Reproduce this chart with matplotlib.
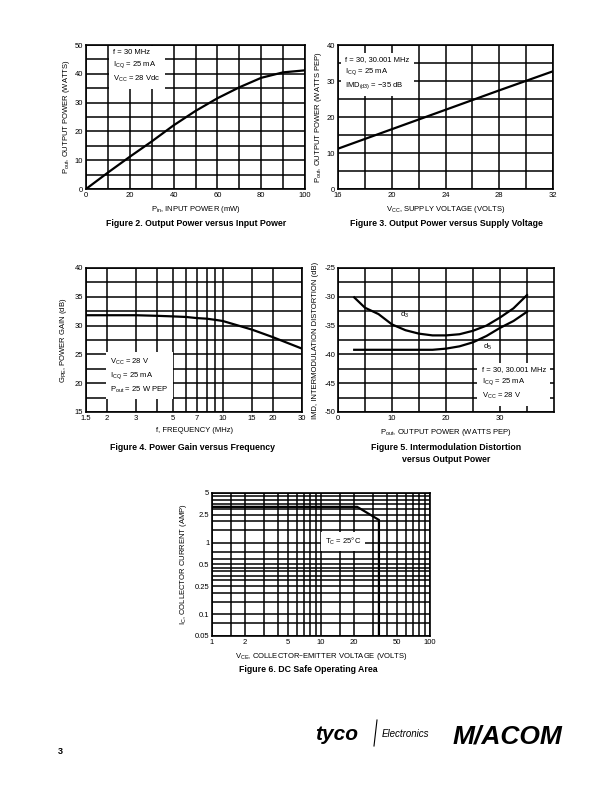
import matplotlib
matplotlib.use('Agg')
import matplotlib.pyplot as plt
from matplotlib.lines import Line2D

plt.rcParams['font.family'] = ['Liberation Sans Narrow', 'Liberation Sans', 'DejaVu Sans']
plt.rcParams['mathtext.default'] = 'regular'

# Figure 2 - output power vs input power
pin = [0, 10, 20, 30, 40, 50, 60, 70, 80, 90, 100]
pout_pin = [0, 5.7, 11.2, 16.5, 22.1, 27.1, 31.5, 35.3, 38.6, 40.5, 41.2]

# Figure 3 - output power vs supply voltage
vcc = [16, 20, 24, 28, 32]
pout_vcc = [11.2, 16.6, 22.0, 27.4, 32.7]

# Figure 4 - power gain vs frequency
freq = [1.5, 2, 3, 4, 5, 6, 7, 8, 9, 10, 15, 20, 30]
gain = [31.8, 31.8, 31.8, 31.7, 31.6, 31.5, 31.3, 31.2, 31.0, 30.8, 29.3, 28.0, 26.0]
freq_labels = [1.5, 2, 3, 5, 7, 10, 15, 20, 30]
freq_grid = [4, 6, 8, 9]

# Figure 5 - IMD vs output power
pout_imd = [3, 5, 7.5, 10, 12.5, 15, 17.5, 20, 22.5, 25, 27.5, 30, 32.5, 35]
d3 = [-30.1, -31.9, -33.0, -34.8, -35.8, -36.4, -36.7, -36.7, -36.5, -35.9, -35.0, -33.6, -32.0, -29.7]
d5 = [-39.2, -39.2, -39.2, -39.2, -39.2, -39.2, -39.2, -39.0, -38.6, -37.9, -36.8, -35.4, -34.2, -32.6]

# Figure 6 - DC safe operating area
soa_v = [1, 21.5, 34, 34]
soa_i = [3.2, 3.2, 2.1, 0.05]
vce_labels = [1, 2, 5, 10, 20, 50, 100]
vce_grid = [1.5, 3, 4, 6, 7, 8, 9, 15, 30, 40, 60, 70, 80, 90]
ic_labels = [0.05, 0.1, 0.25, 0.5, 1, 2.5, 5]
ic_grid = [0.075, 0.15, 0.2, 0.3, 0.35, 0.4, 0.45, 0.6, 0.75, 1.5, 2, 3, 3.5, 4, 4.5]

fig = plt.figure(figsize=(6.12, 7.92), dpi=100)


def px_axes(l, t, r, b):
    return fig.add_axes([l / 612, 1 - b / 792, (r - l) / 612, (b - t) / 792])


def style(ax):
    ax.set_axisbelow(True)
    for s in ax.spines.values():
        s.set_linewidth(1.2)
    ax.tick_params(which='both', length=0, pad=2, labelsize=5.5)
    ax.grid(which='both', color='black', linewidth=1.1)


box = dict(boxstyle='square,pad=0.6', fc='white', ec='none')
tfs = 5.5
lfs = 5.5

# ---- Figure 2
ax = px_axes(86, 45, 305, 189)
ax.plot(pin, pout_pin, color='black', lw=1.6)
ax.set_xlim(0, 100)
ax.set_ylim(0, 50)
ax.set_xticks(range(0, 101, 20))
ax.set_xticks(range(10, 100, 20), minor=True)
ax.set_yticks(range(0, 51, 10))
ax.set_yticks(range(5, 50, 10), minor=True)
style(ax)
ax.text(12.5, 42.5, 'f = 30 MHz\n$I_{CQ}$ = 25 mA\n$V_{CC}$ = 28 Vdc', fontsize=tfs,
        va='center', ha='left', bbox=box, linespacing=1.5)
ax.set_xlabel('$P_{in}$, INPUT POWER (mW)', fontsize=lfs, labelpad=4)
ax.set_ylabel('$P_{out}$, OUTPUT POWER (WATTS)', fontsize=lfs, labelpad=2)

# ---- Figure 3
ax = px_axes(338, 45, 553, 189)
ax.plot(vcc, pout_vcc, color='black', lw=1.6)
ax.set_xlim(16, 32)
ax.set_ylim(0, 40)
ax.set_xticks(range(16, 33, 4))
ax.set_xticks(range(18, 32, 4), minor=True)
ax.set_yticks(range(0, 41, 10))
ax.set_yticks(range(5, 40, 10), minor=True)
style(ax)
ax.text(16.55, 32.1, 'f = 30, 30.001 MHz\n$I_{CQ}$ = 25 mA\n$IMD_{(d3)}$ = \u221235 dB', fontsize=tfs,
        va='center', ha='left', bbox=box, linespacing=1.5)
ax.set_xlabel('$V_{CC}$, SUPPLY VOLTAGE (VOLTS)', fontsize=lfs, labelpad=4)
ax.set_ylabel('$P_{out}$, OUTPUT POWER (WATTS PEP)', fontsize=lfs, labelpad=2)

# ---- Figure 4
ax = px_axes(86, 268, 302, 412)
ax.plot(freq, gain, color='black', lw=1.6)
ax.set_xscale('log')
ax.set_xlim(1.5, 30)
ax.set_ylim(15, 40)
ax.set_xticks(freq_labels)
ax.set_xticklabels([str(v) for v in freq_labels])
ax.set_xticks(freq_grid, minor=True)
ax.set_xticklabels([], minor=True)
ax.set_yticks(range(15, 41, 5))
ax.set_yticks([17.5, 22.5, 27.5, 32.5, 37.5], minor=True)
style(ax)
ax.text(2.1, 21.3, '$V_{CC}$ = 28 V\n$I_{CQ}$ = 25 mA\n$P_{out}$ = 25 W PEP', fontsize=tfs,
        va='center', ha='left', bbox=box, linespacing=1.5)
ax.set_xlabel('f, FREQUENCY (MHz)', fontsize=lfs, labelpad=4)
ax.set_ylabel('$G_{PE}$, POWER GAIN (dB)', fontsize=lfs, labelpad=4)

# ---- Figure 5
ax = px_axes(338, 268, 554, 412)
ax.plot(pout_imd, d3, color='black', lw=1.6)
ax.plot(pout_imd, d5, color='black', lw=1.6)
ax.set_xlim(0, 40)
ax.set_ylim(-50, -25)
ax.set_xticks([0, 10, 20, 30])
ax.set_xticks([5, 15, 25, 35], minor=True)
ax.set_yticks(range(-50, -24, 5))
ax.set_yticklabels(['-50', '-45', '-40', '-35', '-30', '-25'])
ax.set_yticks([-47.5, -42.5, -37.5, -32.5, -27.5], minor=True)
style(ax)
ax.text(11.4, -33.1, '$d_3$', fontsize=tfs, ha='left', va='center')
ax.text(26.8, -38.7, '$d_5$', fontsize=tfs, ha='left', va='center')
ax.text(26.6, -45.1, 'f = 30, 30.001 MHz\n$I_{CQ}$ = 25 mA\n$V_{CC}$ = 28 V', fontsize=tfs,
        va='center', ha='left', bbox=box, linespacing=1.5)
ax.set_xlabel('$P_{out}$, OUTPUT POWER (WATTS PEP)', fontsize=lfs, labelpad=4)
ax.set_ylabel('IMD, INTERMODULATION DISTORTION (dB)', fontsize=lfs, labelpad=4)

# ---- Figure 6
ax = px_axes(212, 493, 430, 636)
ax.plot(soa_v, soa_i, color='black', lw=1.6)
ax.set_xscale('log')
ax.set_yscale('log')
ax.set_xlim(1, 100)
ax.set_ylim(0.05, 5)
ax.set_xticks(vce_labels)
ax.set_xticklabels([str(v) for v in vce_labels])
ax.set_xticks(vce_grid, minor=True)
ax.set_xticklabels([], minor=True)
ax.set_yticks(ic_labels)
ax.set_yticklabels([str(v) for v in ic_labels])
ax.set_yticks(ic_grid, minor=True)
ax.set_yticklabels([], minor=True)
style(ax)
ax.text(16, 1.05, '$T_C$ = 25\u00b0C', fontsize=tfs, ha='center', va='center',
        bbox=dict(boxstyle='square,pad=0.5', fc='white', ec='none'))
ax.set_xlabel('$V_{CE}$, COLLECTOR\u2013EMITTER VOLTAGE (VOLTS)', fontsize=lfs, labelpad=4)
ax.set_ylabel('$I_C$, COLLECTOR CURRENT (AMP)', fontsize=lfs, labelpad=4)

# ---- captions
cap = dict(fontsize=6.3, fontweight='bold', family='Liberation Sans', ha='center', va='center')
fig.text(196 / 612, 1 - 224 / 792, 'Figure 2. Output Power versus Input Power', **cap)
fig.text(446 / 612, 1 - 224 / 792, 'Figure 3. Output Power versus Supply Voltage', **cap)
fig.text(193 / 612, 1 - 447 / 792, 'Figure 4. Power Gain versus Frequency', **cap)
fig.text(446 / 612, 1 - 447 / 792, 'Figure 5. Intermodulation Distortion', **cap)
fig.text(446 / 612, 1 - 460 / 792, 'versus Output Power', **cap)
fig.text(308 / 612, 1 - 670 / 792, 'Figure 6. DC Safe Operating Area', **cap)

# ---- footer
fig.text(58 / 612, 1 - 752 / 792, '3', fontsize=6.5, fontweight='bold', family='Liberation Sans', ha='left', va='center')
fig.text(315 / 612, 1 - 734 / 792, 'tyco', fontsize=15, fontweight='bold', style='italic',
         family='Liberation Sans', ha='left', va='center')
fig.add_artist(Line2D([377 / 612, 374 / 612], [1 - 720 / 792, 1 - 746 / 792], color='black', lw=0.8))
fig.text(382 / 612, 1 - 734 / 792, 'Electronics', fontsize=7, style='italic',
         family='Liberation Sans', ha='left', va='center')
fig.text(453 / 612, 1 - 736 / 792, 'M/ACOM', fontsize=19, fontweight='bold', style='italic',
         family='Liberation Sans', ha='left', va='center')

fig.savefig('out.png', dpi=100)
